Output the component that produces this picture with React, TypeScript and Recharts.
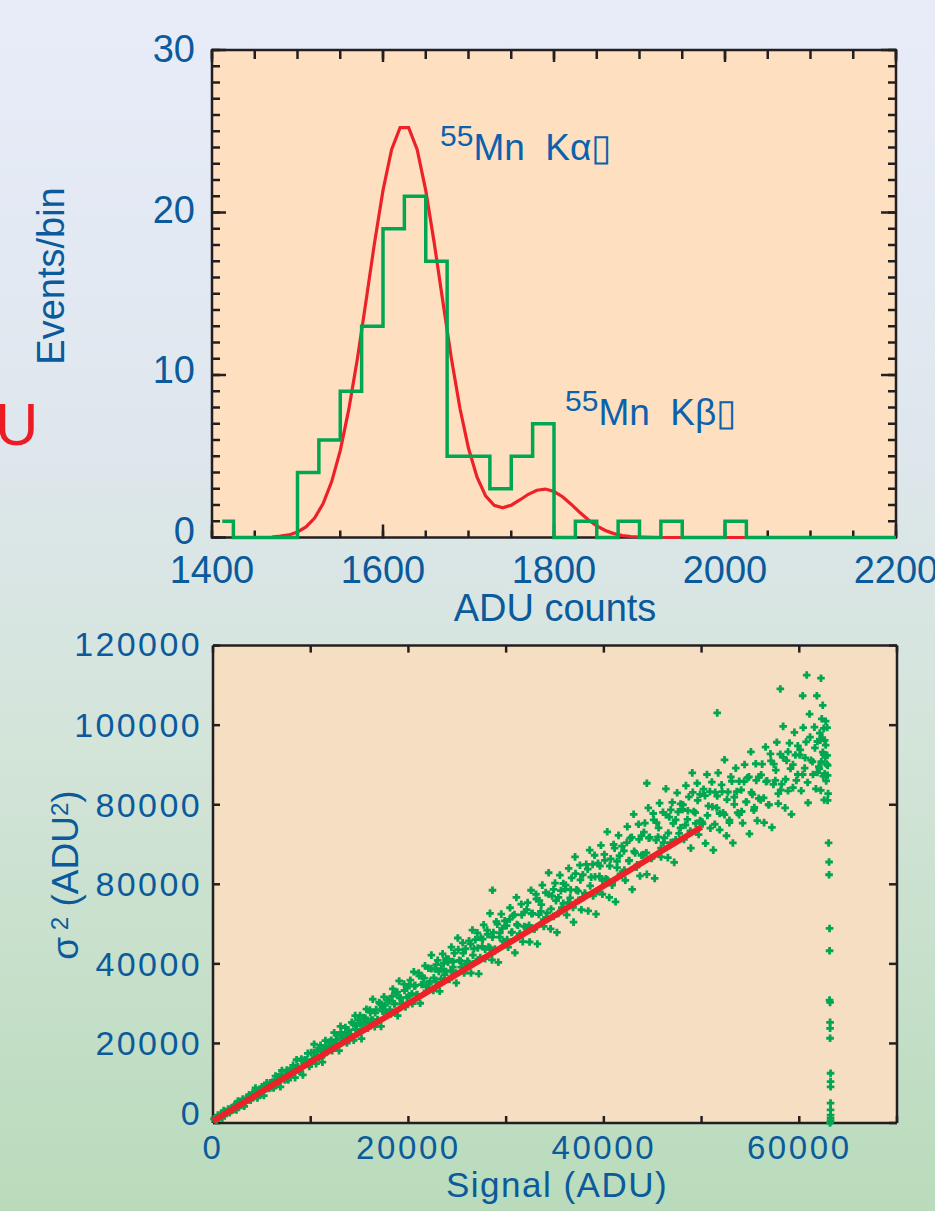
import React from "react";
import { ComposedChart, Line, Scatter, XAxis, YAxis } from "recharts";

const FONT = "'Liberation Sans', Arial, Helvetica, sans-serif";
const INK = "#231f20";
const TICK_BLUE = "#0b5a9b";
const NOTE_BLUE = "#0a62ad";
const GREEN = "#00a651";
const RED = "#ec2228";

// ---- top panel: 55Fe spectrum, ADU counts per event
const histEdges = [1412, 1425, 1450, 1475, 1500, 1525, 1550, 1575, 1600, 1625, 1650, 1675, 1700, 1725, 1750, 1775, 1800, 1825, 1850, 1875, 1900, 1925, 1950, 1975, 2000, 2025, 2050, 2075, 2100, 2125, 2150, 2175, 2200];
const histCounts = [1, 0, 0, 0, 4, 6, 9, 13, 19, 21, 17, 5, 5, 3, 5, 7, 0, 1, 0, 1, 0, 1, 0, 0, 1, 0, 0, 0, 0, 0, 0, 0, 0];

const fitAdu = [1470, 1480, 1490, 1500, 1510, 1520, 1530, 1540, 1550, 1560, 1570, 1580, 1590, 1600, 1610, 1620, 1630, 1640, 1650, 1660, 1670, 1680, 1690, 1700, 1710, 1720, 1730, 1740, 1750, 1760, 1770, 1780, 1790, 1800, 1810, 1820, 1830, 1840, 1850, 1860, 1870, 1880, 1890, 1900, 1910, 1920, 2200];
const fitCounts = [0.03, 0.08, 0.16, 0.34, 0.65, 1.2, 2.09, 3.44, 5.35, 7.88, 10.99, 14.5, 18.1, 21.36, 23.87, 25.22, 25.22, 23.87, 21.36, 18.1, 14.52, 11.02, 7.95, 5.49, 3.71, 2.56, 1.98, 1.83, 1.99, 2.31, 2.66, 2.91, 2.98, 2.83, 2.51, 2.05, 1.55, 1.09, 0.71, 0.43, 0.24, 0.12, 0.06, 0.03, 0.01, 0, 0];

const histXTicks = [1400, 1450, 1500, 1550, 1600, 1650, 1700, 1750, 1800, 1850, 1900, 1950, 2000, 2050, 2100, 2150, 2200];
const histXLabels = [1400, 1600, 1800, 2000, 2200];
const histYTicks = Array.from({ length: 31 }, (_, i) => i);
const histYLabels = [0, 10, 20, 30];

// ---- bottom panel: photon transfer, variance vs signal
const ptcXTicks = [0, 10000, 20000, 30000, 40000, 50000, 60000, 70000];
const ptcXLabels = [0, 20000, 40000, 60000];
const ptcYTicks = [0, 20000, 40000, 60000, 80000, 100000, 120000];
const ptcYLabels = ["0", "20000", "40000", "80000", "80000", "100000", "120000"];

const fitSignal = [0, 50000];
const fitVariance = [500, 74400];

// outer part of the cloud
const cloudPoints: [number, number][] = [
  [200, 1100], [350, 600], [500, 2000], [650, 1500], [800, 2200], [950, 1200], [1100, 3100], [1250, 2500], [1400, 2400], [1550, 3500], [1700, 2600], [1850, 3700],
  [2050, 3400], [2200, 4500], [2400, 3300], [2550, 5500], [2700, 4800], [2900, 4400], [3050, 6000], [3200, 4200], [3400, 6200], [3550, 5900], [3700, 7100], [3850, 5700],
  [4050, 7500], [4200, 6600], [4350, 8800], [4550, 6300], [4700, 8100], [4850, 7200], [5000, 9100], [5200, 6900], [5350, 8800], [5500, 10100], [5700, 8700], [5850, 10100],
  [6050, 10100], [6200, 8800], [6400, 11800], [6550, 10200], [6700, 11600], [6900, 9100], [7050, 13200], [7200, 11400], [7400, 11000], [7550, 13300], [7700, 10800], [7850, 13100],
  [8050, 12300], [8200, 14500], [8400, 11400], [8550, 15900], [8700, 14100], [8900, 13000], [9050, 16100], [9200, 12100], [9400, 15900], [9550, 15100], [9700, 17500], [9850, 14200],
  [10050, 17700], [10200, 16000], [10350, 19800], [10550, 14900], [10700, 18100], [10850, 16400], [11000, 19500], [11200, 15300], [11350, 18500], [11500, 20700], [11700, 18000], [11850, 20300],
  [12050, 20400], [12200, 18200], [12400, 22700], [12550, 20100], [12700, 22100], [12900, 18200], [13050, 24300], [13200, 21400], [13400, 20700], [13550, 24000], [13700, 20100], [13850, 23400],
  [14050, 22300], [14200, 25300], [14400, 20800], [14550, 27000], [14700, 24500], [14900, 22800], [15050, 27000], [15200, 21200], [15400, 26500], [15550, 25300], [15700, 28600], [15850, 23800],
  [16050, 28400], [16200, 25900], [16350, 31100], [16550, 24200], [16700, 28500], [16850, 26000], [17000, 30300], [17200, 24300], [17350, 28800], [17500, 31700], [17700, 27700], [17850, 30900],
  [18050, 30700], [18200, 27400], [18400, 33700], [18550, 29900], [18700, 32700], [18900, 27000], [19050, 35700], [19200, 31400], [19400, 30200], [19550, 34900], [19700, 29200], [19850, 33900],
  [20050, 32000], [20200, 35900], [20400, 30000], [20550, 38000], [20700, 34600], [20900, 32300], [21050, 37700], [21200, 30100], [21400, 36900], [21550, 35300], [21700, 39500], [21850, 33200],
  [22050, 38900], [22200, 35600], [22350, 42200], [22550, 33300], [22700, 38700], [22850, 35400], [23000, 40900], [23200, 33100], [23350, 38800], [23500, 42500], [23700, 37300], [23850, 41300],
  [24050, 40400], [24200, 36100], [24400, 44200], [24550, 39200], [24700, 42700], [24900, 35200], [25050, 46500], [25200, 40900], [25400, 39200], [25550, 45300], [25700, 37700], [25850, 43800],
  [26050, 40700], [26200, 45800], [26400, 37700], [26550, 48500], [26700, 43800], [26900, 40600], [27050, 47800], [27200, 37500], [27400, 46600], [27550, 44400], [27700, 49800], [27850, 41300],
  [28050, 48500], [28200, 44200], [28350, 52700], [28550, 41000], [28700, 47900], [28850, 43700], [29000, 50600], [29200, 40400], [29350, 47800], [29500, 52500], [29700, 45700], [29850, 50800], [28600, 58500],
  [30050, 49600], [30200, 44200], [30400, 54100], [30550, 47900], [30700, 52100], [30900, 42800], [31050, 56700], [31200, 49700], [31400, 47600], [31550, 55000], [31700, 45600], [31850, 53000],
  [32050, 49200], [32200, 55400], [32400, 45500], [32550, 58500], [32700, 52700], [32900, 48800], [33050, 57500], [33200, 45000], [33400, 55900], [33550, 53200], [33700, 59800], [33850, 49400],
  [34050, 57900], [34200, 52800], [34350, 62900], [34550, 48800], [34700, 57100], [34850, 51900], [35000, 60300], [35200, 47900], [35350, 56700], [35500, 62300], [35700, 54100], [35850, 60200],
  [36050, 58800], [36200, 52300], [36400, 64000], [36550, 56600], [36700, 61600], [36900, 50500], [37050, 66900], [37200, 58600], [37400, 56000], [37550, 64800], [37700, 53600], [37850, 62400],
  [38050, 57800], [38200, 65000], [38400, 53300], [38550, 68600], [38700, 61800], [38900, 57100], [39050, 67300], [39200, 52500], [39400, 65300], [39550, 62000], [39700, 69800], [39850, 57500],
  [40050, 67500], [40200, 61400], [40350, 73200], [40550, 56700], [40700, 66400], [40850, 60300], [41000, 70000], [41200, 55600], [41350, 65800], [41500, 72300], [41700, 62600], [41850, 69600],
  [42050, 68400], [42200, 61000], [42400, 74500], [42550, 65900], [42700, 71600], [42900, 58700], [43050, 77600], [43200, 67900], [43400, 64900], [43550, 75100], [43700, 62100], [43850, 72200], [44400, 85400],
  [44050, 67500], [44200, 75400], [44400, 62500], [44550, 79200], [44700, 71800], [44900, 66600], [45050, 77800], [45200, 61500], [45400, 75500], [45550, 71900], [45700, 80400], [45850, 66900],
  [46050, 78100], [46200, 71700], [46350, 84000], [46550, 66700], [46700, 76900], [46850, 70500], [47000, 80600], [47200, 65500], [47350, 76200], [47500, 83000], [47700, 72800], [47850, 80200],
  [48050, 78800], [48200, 71300], [48400, 84800], [48550, 76300], [48700, 82000], [48900, 69100], [49050, 88000], [49200, 78300], [49400, 75300], [49550, 85400], [49700, 72500], [49850, 82600],
  [50050, 75700], [50200, 83900], [50400, 70300], [50550, 87600], [50700, 79700], [50900, 74100], [51050, 85700], [51200, 68600], [51400, 83100], [51550, 79200], [51700, 88000], [51850, 73700], [51600, 103100],
  [52050, 85000], [52200, 78000], [52350, 91300], [52550, 72200], [52700, 83200], [52850, 76100], [53000, 87000], [53200, 70400], [53350, 81900], [53500, 89200], [53700, 78000], [53850, 85900],
  [54050, 83700], [54200, 75400], [54400, 90100], [54550, 80700], [54700, 86800], [54900, 72700], [55050, 93300], [55200, 82600], [55400, 79300], [55550, 90300], [55700, 76000], [55850, 87000],
  [56050, 81200], [56200, 90200], [56400, 75500], [56550, 94500], [56700, 86000], [56900, 80000], [57050, 92800], [57200, 74300], [57400, 90200], [57550, 86100], [57700, 95700], [57850, 80300],
  [58050, 92700], [58200, 85200], [58350, 99700], [58550, 79200], [58700, 91100], [58850, 83500], [59000, 95500], [59200, 77600], [59350, 90100], [59500, 98200], [59700, 86100], [59850, 94800],
  [60050, 92500], [60200, 83500], [60400, 99400], [60550, 89200], [60700, 95800], [60900, 80500], [61050, 102800], [61200, 91200], [61400, 87600], [61550, 99500], [61700, 84000], [61850, 95900],
  [62000, 89600], [62100, 98000], [62200, 83600], [62300, 101600], [62400, 93200], [62450, 87200], [62500, 99200], [62550, 81200], [62600, 96200], [62650, 92000], [62700, 101000], [62750, 86000],
  [58060, 109100], [60350, 107400], [60760, 112600], [61800, 107400], [62220, 111800], [62400, 105000],
  [62850, 99400], [62850, 92400], [62900, 89900], [62900, 87400], [62950, 82800], [62900, 81100],
];

// dense core of the cloud, close to the trend
const corePoints: [number, number][] = [
  [100, 1050], [350, 900], [600, 1600], [850, 1500], [1100, 2700], [1350, 2600], [1600, 3200], [1850, 3100],
  [2100, 3400], [2350, 4600], [2600, 4400], [2850, 5400], [3100, 5300], [3350, 5200], [3600, 6300], [3850, 6200],
  [4100, 7300], [4350, 6800], [4600, 7700], [4850, 7200], [5100, 9100], [5350, 8500], [5600, 9400], [5850, 8800],
  [6100, 9200], [6350, 10900], [6600, 10300], [6850, 11800], [7100, 11400], [7350, 10800], [7600, 12600], [7850, 12000],
  [8100, 13800], [8350, 12800], [8600, 14000], [8850, 13000], [9100, 15700], [9350, 14700], [9600, 15800], [9850, 14700],
  [10100, 15600], [10350, 17800], [10600, 16800], [10850, 18800], [11100, 18000], [11350, 17100], [11600, 19400], [11850, 18500],
  [12100, 20800], [12350, 19400], [12600, 20900], [12850, 19500], [13100, 22800], [13350, 21500], [13600, 22700], [13850, 21300],
  [14100, 22200], [14350, 24900], [14600, 23500], [14850, 25900], [15100, 24900], [15350, 23600], [15600, 26400], [15850, 25200],
  [16100, 27800], [16350, 25900], [16600, 27700], [16850, 25800], [17100, 30000], [17350, 28100], [17600, 29600], [17850, 27700],
  [18100, 28500], [18350, 31900], [18600, 30000], [18850, 32900], [19100, 31500], [19350, 29900], [19600, 33300], [19850, 31600],
  [20100, 34700], [20350, 32500], [20600, 34400], [20850, 32200], [21100, 37000], [21350, 34800], [21600, 36400], [21850, 34200],
  [22100, 34900], [22350, 38800], [22600, 36500], [22850, 39800], [23100, 38100], [23350, 36200], [23600, 40100], [23850, 38100],
  [24100, 41200], [24350, 38300], [24600, 40600], [24850, 37700], [25100, 43600], [25350, 40700], [25600, 42700], [25850, 39900],
  [26100, 40400], [26350, 45000], [26600, 42200], [26850, 46100], [27100, 44000], [27350, 41600], [27600, 46200], [27850, 43700],
  [28100, 47400], [28350, 44000], [28600, 46700], [28850, 43300], [29100, 50000], [29350, 46700], [29600, 48900], [29850, 45500],
  [30100, 46100], [30350, 51200], [30600, 48000], [30850, 52400], [31100, 49900], [31350, 47100], [31600, 52300], [31850, 49400],
  [32100, 53600], [32350, 49700], [32600, 52600], [32850, 48700], [33100, 56300], [33350, 52400], [33600, 54900], [33850, 51100],
  [34100, 51700], [34350, 57500], [34600, 53800], [34850, 58700], [35100, 55900], [35350, 52700], [35600, 58400], [35850, 55200],
  [36100, 59800], [36350, 55400], [36600, 58600], [36850, 54200], [37100, 62700], [37350, 58300], [37600, 61100], [37850, 56700],
  [38100, 57400], [38350, 63800], [38600, 59600], [38850, 65000], [39100, 61900], [39350, 58200], [39600, 64600], [39850, 61000],
  [40100, 66000], [40350, 61100], [40600, 64600], [40850, 59800], [41100, 69100], [41350, 64200], [41600, 67200], [41850, 62300],
  [42100, 63600], [42350, 70500], [42600, 66000], [42850, 71800], [43100, 68300], [43350, 64300], [43600, 71300], [43850, 67300],
  [44100, 73100], [44350, 67900], [44600, 71600], [44850, 66500], [45100, 76200], [45350, 71100], [45600, 74200], [45850, 69100],
  [46100, 70500], [46350, 77500], [46600, 72900], [46850, 78700], [47100, 75300], [47350, 71200], [47600, 78200], [47850, 74200],
  [48100, 80000], [48350, 74900], [48600, 78500], [48850, 73400], [49100, 83100], [49350, 78000], [49600, 81100], [49850, 76000],
  [50100, 75200], [50350, 82300], [50600, 77300], [50850, 83300], [51100, 79500], [51350, 75100], [51600, 82200], [51850, 77800],
  [52100, 83300], [52350, 77500], [52600, 81300], [52850, 75500], [53100, 85900], [53350, 80100], [53600, 83300], [53850, 77500],
  [54100, 78300], [54350, 85800], [54600, 80700], [54850, 87000], [55100, 83100], [55350, 78600], [55600, 86100], [55850, 81600],
  [56100, 87500], [56350, 81700], [56600, 85800], [56850, 80000], [57100, 91000], [57350, 85100], [57600, 88700], [57850, 82800],
  [58100, 83700], [58350, 91900], [58600, 86400], [58850, 93300], [59100, 89100], [59350, 84300], [59600, 92500], [59850, 87600],
  [60100, 93800], [60350, 87600], [60600, 91800], [60850, 85600], [61100, 97000], [61350, 90800], [61600, 94300], [61850, 88100],
  [62050, 89000], [62150, 96200], [62250, 90800], [62350, 96800], [62500, 92600], [62600, 87800], [62700, 95000], [62800, 90200],
];

// saturated pixels falling straight down near full well
const saturatedPoints: [number, number][] = [
  [63000, 70400], [63050, 65600], [63050, 62400], [63100, 48900], [63100, 43300], [63100, 30900], [63150, 30300], [63150, 25300], [63150, 23800], [63150, 21300],
  [63200, 12500], [63200, 10400], [63200, 9100], [63200, 5000], [63200, 3300], [63200, 2000], [63200, 1200], [63200, 500], [63150, 0],
];

const histData = histEdges.map((adu, i) => ({ adu, count: histCounts[i] }));
const fitData = fitAdu.map((adu, i) => ({ adu, count: fitCounts[i] }));
const ptcData = [...cloudPoints, ...corePoints, ...saturatedPoints].map(([signal, variance]) => ({ signal, variance }));
const ptcFit = fitSignal.map((signal, i) => ({ signal, variance: fitVariance[i] }));

// tick label renderers; the tick marks themselves are Recharts tick lines drawn inward
const bottomLabel = (show: (v: number) => boolean, gap: number, fontSize: number, spacing = 0) => (props: any) => {
  const { x, y, payload } = props;
  if (!show(payload.value)) return <g />;
  return (
    <text x={x} y={y + gap} textAnchor="middle" fontFamily={FONT} fontSize={fontSize} fill={TICK_BLUE} letterSpacing={spacing}>
      {String(payload.value)}
    </text>
  );
};

const leftLabel = (text: (v: number) => string | null, gap: number, dy: (v: number) => number, fontSize: number, spacing = 0) => (props: any) => {
  const { x, y, payload } = props;
  const t = text(payload.value);
  if (t == null) return <g />;
  return (
    <text x={x - gap} y={y + dy(payload.value)} textAnchor="end" fontFamily={FONT} fontSize={fontSize} fill={TICK_BLUE} letterSpacing={spacing}>
      {t}
    </text>
  );
};

const noLabel = () => <g />;

const histBottomLabel = bottomLabel((v) => histXLabels.includes(v), 44.5, 38);
const histLeftLabel = leftLabel((v) => (histYLabels.includes(v) ? String(v) : null), 16, (v) => 6 + v * 0.2, 38);
const ptcBottomLabel = bottomLabel((v) => ptcXLabels.includes(v), 36, 33, 2.6);
const ptcLeftLabel = leftLabel((v) => ptcYLabels[ptcYTicks.indexOf(v)], 11, (v) => (v === 0 ? 2 : v === 120000 ? 10 : 12), 34, 2.4);

const PlusMark = (props: any) => {
  const { cx, cy } = props;
  if (cx == null || cy == null) return null;
  const d = `M${cx - 1.4},${cy - 3.8}h2.8v2.4h2.4v2.8h-2.4v2.4h-2.8v-2.4h-2.4v-2.8h2.4z`;
  return <path d={d} fill={GREEN} />;
};

const axisLine = { stroke: INK, strokeWidth: 2.5 };
const tickLine = { stroke: INK, strokeWidth: 2.5 };

// an invisible copy of a series, only so that an axis has something bound to it and draws its ticks
const Anchor = (xId: string, yId: string, data: any[], key: string) => (
  <Line xAxisId={xId} yAxisId={yId} data={data} dataKey={key} stroke="transparent" strokeWidth={0}
    dot={false} activeDot={false} isAnimationActive={false} legendType="none" />
);

const SpectrumChart = () => (
  <ComposedChart width={935} height={640} margin={{ top: 40, right: 29, bottom: 62.5, left: 172 }}>
    {/* outer axes: long major ticks and the labels */}
    <XAxis xAxisId="x1" type="number" dataKey="adu" domain={[1400, 2200]} ticks={histXLabels} interval={0} height={39}
      tickSize={-14} tickMargin={14} tickLine={tickLine} axisLine={false} tick={histBottomLabel} />
    <XAxis xAxisId="t1" orientation="top" type="number" dataKey="adu" domain={[1400, 2200]} ticks={histXLabels} interval={0} height={9}
      tickSize={-13} tickMargin={13} tickLine={tickLine} axisLine={false} tick={noLabel} />
    <YAxis yAxisId="y1" type="number" domain={[0, 30]} ticks={histYLabels} interval={0} width={39}
      tickSize={-15} tickMargin={15} tickLine={tickLine} axisLine={false} tick={histLeftLabel} />
    <YAxis yAxisId="r1" orientation="right" type="number" domain={[0, 30]} ticks={histYLabels} interval={0} width={9}
      tickSize={-16} tickMargin={16} tickLine={tickLine} axisLine={false} tick={noLabel} />
    {/* inner 1px axes: frame line plus the short minor ticks */}
    <XAxis xAxisId="x0" type="number" dataKey="adu" domain={[1400, 2200]} ticks={histXTicks} interval={0} height={1}
      tickSize={-7} tickMargin={7} tickLine={tickLine} axisLine={axisLine} tick={noLabel} />
    <XAxis xAxisId="t0" orientation="top" type="number" dataKey="adu" domain={[1400, 2200]} ticks={histXTicks} interval={0} height={1}
      tickSize={-9} tickMargin={9} tickLine={tickLine} axisLine={axisLine} tick={noLabel} />
    <YAxis yAxisId="y0" type="number" domain={[0, 30]} ticks={histYTicks} interval={0} width={1}
      tickSize={-8} tickMargin={8} tickLine={tickLine} axisLine={axisLine} tick={noLabel} />
    <YAxis yAxisId="r0" orientation="right" type="number" domain={[0, 30]} ticks={histYTicks} interval={0} width={1}
      tickSize={-8} tickMargin={8} tickLine={tickLine} axisLine={axisLine} tick={noLabel} />
    {Anchor("x1", "y1", histData, "count")}
    {Anchor("t1", "r1", histData, "count")}
    {Anchor("t0", "r0", histData, "count")}
    <Line xAxisId="x0" yAxisId="y0" data={fitData} dataKey="count" type="linear" stroke={RED} strokeWidth={3.2}
      dot={false} isAnimationActive={false} zIndex={700} />
    <Line xAxisId="x0" yAxisId="y0" data={histData} dataKey="count" type="stepAfter" stroke={GREEN} strokeWidth={3.5}
      dot={false} isAnimationActive={false} zIndex={710} />
  </ComposedChart>
);

const TransferChart = () => (
  <ComposedChart width={935} height={591} margin={{ top: 15.6, right: 28, bottom: 48, left: 173 }}>
    <XAxis xAxisId="b" type="number" dataKey="signal" domain={[0, 70000]} ticks={ptcXTicks} interval={0} height={40}
      tickSize={-7} tickMargin={7} tickLine={tickLine} axisLine={axisLine} tick={ptcBottomLabel} />
    <XAxis xAxisId="t" orientation="top" type="number" dataKey="signal" domain={[0, 70000]} ticks={ptcXTicks} interval={0} height={10}
      tickSize={-7} tickMargin={7} tickLine={tickLine} axisLine={axisLine} tick={noLabel} />
    <YAxis yAxisId="l" type="number" dataKey="variance" domain={[0, 120000]} ticks={ptcYTicks} interval={0} width={40}
      tickSize={-7} tickMargin={7} tickLine={tickLine} axisLine={axisLine} tick={ptcLeftLabel} />
    <YAxis yAxisId="r" orientation="right" type="number" dataKey="variance" domain={[0, 120000]} ticks={ptcYTicks} interval={0} width={10}
      tickSize={-8} tickMargin={8} tickLine={tickLine} axisLine={axisLine} tick={noLabel} />
    {Anchor("t", "r", ptcFit, "variance")}
    <Scatter xAxisId="b" yAxisId="l" data={ptcData} dataKey="variance" fill={GREEN} shape={PlusMark} isAnimationActive={false} />
    <Line xAxisId="b" yAxisId="l" data={ptcFit} dataKey="variance" type="linear" stroke={RED} strokeWidth={6}
      dot={false} isAnimationActive={false} zIndex={700} />
  </ComposedChart>
);

export default function App() {
  const label = { fontFamily: FONT, fill: TICK_BLUE };
  const note = { fontFamily: FONT, fill: NOTE_BLUE };
  return (
    <div
      style={{
        position: "absolute",
        left: 0,
        top: 0,
        width: 935,
        height: 1211,
        overflow: "hidden",
        background: "linear-gradient(180deg, #e8ecf9 0%, #dfe7ee 35%, #d3e4d9 62%, #b9dbbb 100%)",
      }}
    >
      {/* plot-area backgrounds sit under the chart svgs */}
      <div style={{ position: "absolute", left: 212, top: 50, width: 684, height: 487.5, background: "#fee0c1" }} />
      <div style={{ position: "absolute", left: 213, top: 645.6, width: 684, height: 477.4, background: "#f5dec2" }} />
      <div style={{ position: "absolute", left: 0, top: 0 }}>
        <SpectrumChart />
      </div>
      <div style={{ position: "absolute", left: 0, top: 620 }}>
        <TransferChart />
      </div>
      <svg width={935} height={1211} style={{ position: "absolute", left: 0, top: 0, pointerEvents: "none" }}>
        <text x={-5} y={445} fontFamily={FONT} fontSize={60} fill="#ec1c24">U</text>
        <text transform="translate(64,276) rotate(-90)" textAnchor="middle" fontSize={38} {...label}>Events/bin</text>
        <text x={555} y={621} textAnchor="middle" fontSize={38} {...label}>ADU counts</text>
        <text x={440} y={160} fontSize={37} {...note}>
          <tspan fontSize={30} dy={-14}>55</tspan>
          <tspan dy={14}>{"Mn\u00a0\u00a0K\u03b1\u25af"}</tspan>
        </text>
        <text x={565} y={425} fontSize={37} {...note}>
          <tspan fontSize={30} dy={-14}>55</tspan>
          <tspan dy={14}>{"Mn\u00a0\u00a0K\u03b2\u25af"}</tspan>
        </text>
        <text transform="translate(78,875) rotate(-90)" textAnchor="middle" fontSize={37} {...label}>
          <tspan>{"\u03c3"}</tspan>
          <tspan fontSize={24} dy={-10}>{"\u00a02"}</tspan>
          <tspan dy={10}>{"\u00a0(ADU"}</tspan>
          <tspan fontSize={24} dy={-10}>2</tspan>
          <tspan dy={10}>)</tspan>
        </text>
        <text x={557} y={1197} textAnchor="middle" fontSize={35} letterSpacing={1.5} {...label}>Signal (ADU)</text>
      </svg>
    </div>
  );
}
